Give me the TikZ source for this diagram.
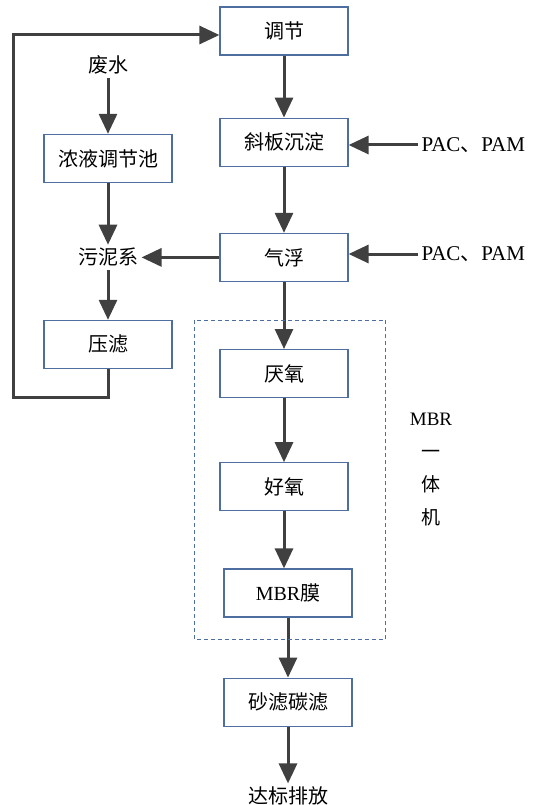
\documentclass[tikz,border=0pt]{standalone}
\usepackage{fontspec}
\setmainfont{Liberation Serif}
\newfontfamily\cjk{Noto Sans CJK SC}
\usetikzlibrary{
  positioning,
  calc,
  arrows.meta}
\definecolor{boxcolor}{RGB}{79,110,160}
\definecolor{flowcolor}{RGB}{64,64,64}
\tikzset{
  %% unit : a treatment unit
  unit/.style={
    rectangle,
    draw=boxcolor,
    line width=1.2pt,
    minimum width=128pt,
    minimum height=48pt,
    align=center,
    font=\cjk\fontsize{20}{24}\selectfont
  },
  %% stream : plain text (inflow, outflow, chemicals)
  stream/.style={
    align=center,
    font=\cjk\fontsize{20}{24}\selectfont
  },
  %% flow : the flow arrows
  flow/.style={
    draw=flowcolor,
    line width=3pt,
    -{Triangle[length=20pt,width=18pt]}
  },
  %% frame : frame around the MBR unit
  frame/.style={boxcolor, line width=1pt, dash pattern=on 4pt off 3pt}
}

\begin{document}
\begin{tikzpicture}
  [x=1pt,
  y=-1pt]

  \useasboundingbox (0,0) rectangle (534,805);

  %% Main treatment line
  \node (adjust) [unit] at (284,31) {调节};

  \node (incline) [below=62pt of adjust, unit] {斜板沉淀};

  \node (float) [below=66pt of incline, unit] {气浮};

  \node (anaerobic) [below=67pt of float, unit] {厌氧};

  \node (aerobic) [below=64pt of anaerobic, unit] {好氧};

  \node (membrane) [below=57pt of aerobic, xshift=4pt, unit] {%
    {\rmfamily MBR}膜};

  \node (sandfilter) [below=60pt of membrane, unit] {砂滤碳滤};

  \node (discharge) [stream] at ($(sandfilter)+(0,94)$) {达标排放};

  %% Chemicals
  \node (pacone) [stream, anchor=west, font=\cjk\fontsize{21}{25}\selectfont]
  at (418,145) {{\rmfamily PAC}、{\rmfamily PAM}};
  \node (pactwo) [stream, anchor=west, font=\cjk\fontsize{21}{25}\selectfont]
  at (418,254) {{\rmfamily PAC}、{\rmfamily PAM}};

  %% Sludge line
  \node (sludge) [stream] at ($(float)+(-176,0)$) {污泥系};
  \node (conc) [unit] at ($(sludge)+(0,-99)$) {浓液调节池};
  \node (wastewater) [stream] at ($(sludge)+(0,-192)$) {废水};
  \node (press) [unit] at ($(sludge)+(0,87)$) {压滤};

  %% Connections
  \draw [flow] (adjust) -- (incline);
  \draw [flow] (incline) -- (float);
  \draw [flow] (float) -- (anaerobic);
  \draw [flow] (anaerobic) -- (aerobic);
  \draw [flow] (aerobic.south) -- (aerobic.south |- membrane.north);
  \draw [flow] (membrane) -- (sandfilter);
  \draw [flow] (sandfilter) -- (discharge);

  \draw [flow] (pacone.west) -- (pacone.west -| incline.east);
  \draw [flow] (pactwo.west) -- (pactwo.west -| float.east);

  \draw [flow] (float) -- (sludge);
  \draw [flow] (wastewater) -- (conc);
  \draw [flow] (conc) -- (sludge);
  \draw [flow] (sludge) -- (press);

  %% Filtrate back to the equalization tank
  \coordinate (loopcorner) at (13,397);
  \draw [flow] (press.south) |- (loopcorner) |- ([yshift=-4pt]adjust.west);

  %% Frame around MBR unit
  \draw [frame] ($(anaerobic.north west)+(-25,-29)$) rectangle
  ($(membrane.south east)+(33,22)$);
  \node (mbrtag) [stream, font=\cjk\fontsize{19}{33}\selectfont]
  at (431,470) {{\rmfamily MBR}\\一\\体\\机};

\end{tikzpicture}
\end{document}
